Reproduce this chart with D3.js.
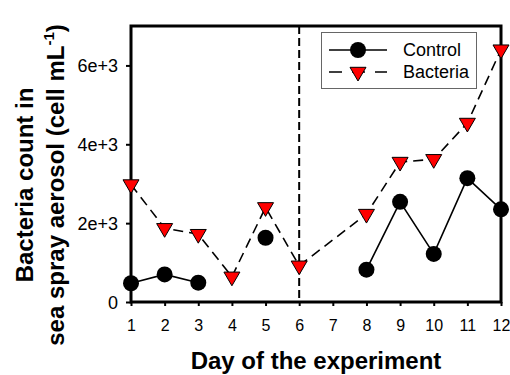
<!DOCTYPE html>
<html>
<head>
<meta charset="utf-8">
<script src="https://cdn.jsdelivr.net/npm/d3@7"></script>
<style>
  body { margin: 0; background: #fff; }
  svg text { font-family: "Liberation Sans", Arial, sans-serif; }
</style>
</head>
<body>
<svg id="chart" width="510" height="375"></svg>
<script>

const days = [1, 2, 3, 4, 5, 6, 7, 8, 9, 10, 11, 12];

const controlCounts =
  [475, 700, 490, null, 1630, null, null, 820, 2540, 1220, 3140, 2350];

const bacteriaCounts =
  [2980, 1870, 1720, 640, 2400, 920, null, 2230, 3550, 3620, 4540, 6400];

const yTicks = [0, 2000, 4000, 6000];
const yTickLabels = ["0", "2e+3", "4e+3", "6e+3"];

const seriesNames = ["Control", "Bacteria"];

const svg =
  d3.select("#chart");

const plotLeft = 131,
  plotRight = 501,
  plotTop = 26,
  plotBottom = 302;

const x =
  d3.scaleLinear()
    .domain([1, 12])
    .range([plotLeft, plotRight]);

const y =
  d3.scaleLinear()
    .domain([0, 7000])
    .range([plotBottom, plotTop]);

// axes
const xAxis =
  svg.append("g")
    .attr("transform", `translate(0,${plotBottom})`)
    .call(
      d3.axisBottom(x)
        .tickValues(days)
        .tickFormat(d3.format("d"))
        .tickSize(4)
        .tickPadding(14)
    );

const yAxis =
  svg.append("g")
    .attr("transform", `translate(${plotLeft},0)`)
    .call(
      d3.axisLeft(y)
        .tickValues(yTicks)
        .tickFormat((d, i) => yTickLabels[i])
        .tickSize(5)
        .tickPadding(8)
    );

[xAxis, yAxis].forEach(g => {
  g.select(".domain").remove();
  g.selectAll("line")
    .attr("stroke", "#000")
    .attr("stroke-width", 2);
  g.selectAll("text")
    .attr("fill", "#000");
});

xAxis.selectAll("text").style("font-size", "16px");
yAxis.selectAll("text")
  .style("font-size", "18px")
  .attr("dy", "0.35em");

// frame
svg.append("rect")
  .attr("x", plotLeft)
  .attr("y", plotTop)
  .attr("width", plotRight - plotLeft)
  .attr("height", plotBottom - plotTop)
  .attr("fill", "none")
  .attr("stroke", "#000")
  .attr("stroke-width", 3);

// day 6 marker line
svg.append("line")
  .attr("x1", x(6))
  .attr("x2", x(6))
  .attr("y1", plotTop)
  .attr("y2", plotBottom)
  .attr("stroke", "#000")
  .attr("stroke-width", 2)
  .attr("stroke-dasharray", "8,4");

const controlData =
  days.map((d, i) => ({ day: d, value: controlCounts[i] }));

const bacteriaData =
  days
    .map((d, i) => ({ day: d, value: bacteriaCounts[i] }))
    .filter(d => d.value !== null);

const line =
  d3.line()
    .defined(d => d.value !== null)
    .x(d => x(d.day))
    .y(d => y(d.value));

svg.append("path")
  .attr("d", line(bacteriaData))
  .attr("fill", "none")
  .attr("stroke", "#000")
  .attr("stroke-width", 1.6)
  .attr("stroke-dasharray", "10,6");

svg.append("path")
  .attr("d", line(controlData))
  .attr("fill", "none")
  .attr("stroke", "#000")
  .attr("stroke-width", 1.6);

const triangle = "M-8,-4.7L8,-4.7L0,9Z";

svg.selectAll(".ctrl")
  .data(controlData.filter(d => d.value !== null))
  .enter()
  .append("circle")
  .attr("class", "ctrl")
  .attr("cx", d => x(d.day))
  .attr("cy", d => y(d.value))
  .attr("r", 8)
  .attr("fill", "#000");

svg.selectAll(".bact")
  .data(bacteriaData)
  .enter()
  .append("path")
  .attr("class", "bact")
  .attr("d", triangle)
  .attr(
    "transform",
    d => `translate(${x(d.day)},${y(d.value)})`
  )
  .attr("fill", "#ff0000")
  .attr("stroke", "#000")
  .attr("stroke-width", 1);

// legend
const legend =
  svg.append("g");

legend.append("rect")
  .attr("x", 321.5)
  .attr("y", 32.5)
  .attr("width", 155)
  .attr("height", 56)
  .attr("fill", "#fff")
  .attr("stroke", "#666")
  .attr("stroke-width", 1);

seriesNames.forEach((name, i) => {

  const ly = 50 + i * 22;

  legend.append("line")
    .attr("x1", 329)
    .attr("x2", 387)
    .attr("y1", ly)
    .attr("y2", ly)
    .attr("stroke", "#000")
    .attr("stroke-width", 1.6)
    .attr("stroke-dasharray", i === 0 ? null : "13,10");

  if (i === 0) {
    legend.append("circle")
      .attr("cx", 358)
      .attr("cy", ly)
      .attr("r", 8)
      .attr("fill", "#000");
  } else {
    legend.append("path")
      .attr("d", triangle)
      .attr("transform", `translate(358,${ly})`)
      .attr("fill", "#ff0000")
      .attr("stroke", "#000");
  }

  legend.append("text")
    .attr("x", 403)
    .attr("y", ly)
    .attr("dy", "0.35em")
    .style("font-size", "18px")
    .text(name);
});

// axis titles
svg.append("text")
  .attr("x", (plotLeft + plotRight) / 2)
  .attr("y", 369)
  .attr("text-anchor", "middle")
  .style("font-size", "24px")
  .style("font-weight", "bold")
  .text("Day of the experiment");

const yTitle =
  svg.append("text")
    .attr("transform", "translate(0,185) rotate(-90)")
    .attr("text-anchor", "middle")
    .style("font-size", "24px")
    .style("font-weight", "bold");

yTitle.append("tspan")
  .attr("x", 0)
  .attr("y", 33)
  .text("Bacteria count in");

const line2 =
  yTitle.append("tspan")
    .attr("x", 0)
    .attr("y", 64)
    .text("sea spray aerosol (cell mL");

line2.append("tspan")
  .attr("dy", -10)
  .style("font-size", "15px")
  .text("-1");

line2.append("tspan")
  .attr("dy", 10)
  .text(")");

</script>
</body>
</html>
